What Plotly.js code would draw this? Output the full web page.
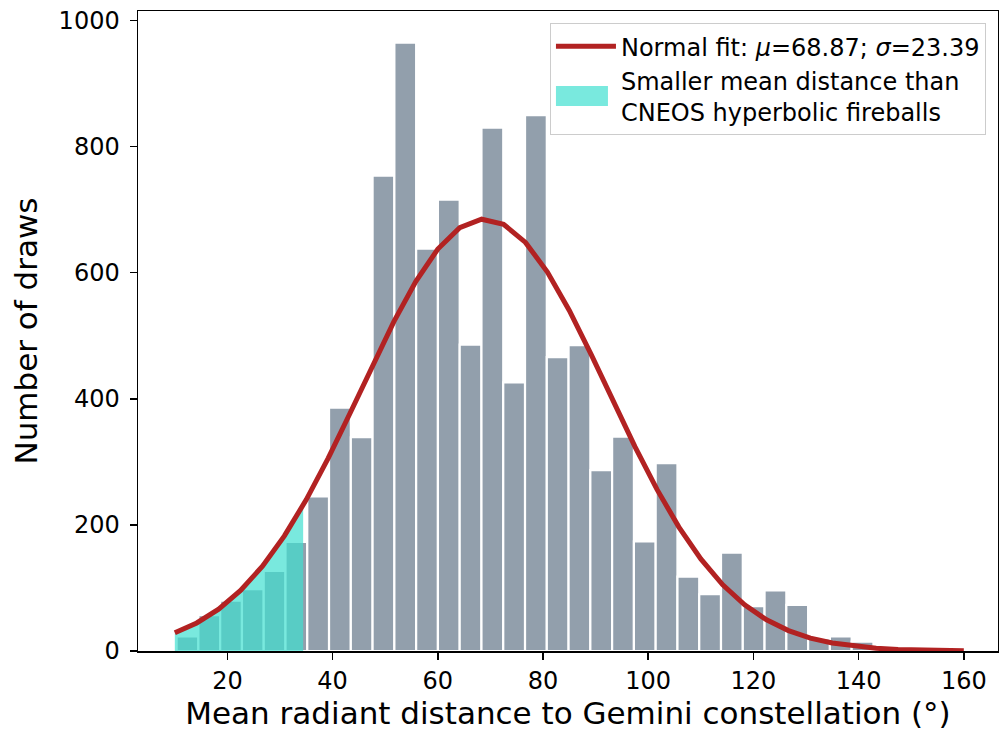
<!DOCTYPE html>
<html>
<head>
<meta charset="utf-8">
<script src="https://cdn.plot.ly/plotly-3.0.1.min.js"></script>
<style>html,body{margin:0;padding:0;background:#fff;}#chart{width:999px;height:735px;}</style>
</head>
<body>
<div id="chart"></div>
<script>
// Histogram of mean radiant distance (bins of equal width)
const binStart = 10.34;
const binWidth = 4.14;
const counts = [23, 57, 80, 98, 127, 173, 245, 386, 339, 754, 965, 638, 716, 486, 830, 426,
                850, 466, 485, 287, 340, 174, 298, 118, 90, 156, 71, 96, 73, 20, 23, 15];

// Normal fit curve
const curveX = [10.0, 14.167, 18.333, 22.5, 26.667, 30.833, 35.0, 39.167, 43.333, 47.5, 51.667, 55.833,
                60.0, 64.167, 68.333, 72.5, 76.667, 80.833, 85.0, 89.167, 93.333, 97.5, 101.667, 105.833,
                110.0, 114.167, 118.333, 122.5, 126.667, 130.833, 135.0, 139.167, 143.333, 147.5, 151.667,
                155.833, 160.0];
const curveY = [28.9, 44.5, 66.4, 96.0, 134.5, 182.6, 240.1, 305.8, 377.5, 451.3, 522.7, 586.4,
                637.5, 671.3, 684.8, 676.8, 648.0, 601.0, 540.0, 470.1, 396.4, 323.9, 256.3, 196.5,
                146.0, 105.0, 73.2, 49.4, 32.4, 20.5, 12.6, 7.5, 4.3, 2.4, 1.3, 0.7, 0.3];

// CNEOS hyperbolic fireballs mean distance threshold
const threshold = 34.4;

const xTicks = [20, 40, 60, 80, 100, 120, 140, 160];
const yTicks = [0, 200, 400, 600, 800, 1000];

const fitLabel = 'Normal fit: <i>μ</i>=68.87; <i>σ</i>=23.39';
const fillLabel = 'Smaller mean distance than<br>CNEOS hyperbolic fireballs';
const xTitle = 'Mean radiant distance to Gemini constellation (°)';
const yTitle = 'Number of draws';

// bar centers
const barX = counts.map((_, i) => binStart + binWidth * (i + 0.5));

// fill region under the curve up to the threshold
const fillX = [], fillY = [];
for (let i = 0; i < curveX.length; i++) {
  if (curveX[i] <= threshold) { fillX.push(curveX[i]); fillY.push(curveY[i]); }
  else {
    const x0 = curveX[i-1], x1 = curveX[i], y0 = curveY[i-1], y1 = curveY[i];
    fillX.push(threshold);
    fillY.push(y0 + (y1 - y0) * (threshold - x0) / (x1 - x0));
    break;
  }
}

const font = 'DejaVu Sans, Liberation Sans, sans-serif';

const traces = [
  {
    type: 'bar', x: barX, y: counts, width: binWidth,
    marker: {color: 'rgb(146,159,172)', line: {color: 'white', width: 2.2}},
    showlegend: false, hoverinfo: 'skip'
  },
  {
    type: 'scatter', x: fillX, y: fillY, mode: 'none', fill: 'tozeroy',
    fillcolor: 'rgba(64,224,208,0.7)', name: fillLabel, legendrank: 2, hoverinfo: 'skip'
  },
  {
    type: 'scatter', x: curveX, y: curveY, mode: 'lines',
    line: {color: '#B22222', width: 5}, name: fitLabel, legendrank: 1, hoverinfo: 'skip'
  }
];

const axisCommon = {
  showgrid: false, zeroline: false, showline: true, linecolor: 'black', linewidth: 1.5,
  mirror: true, ticks: 'outside', ticklen: 7, tickwidth: 1.5, tickcolor: 'black',
  tickfont: {family: font, size: 24, color: 'black'}, automargin: false
};

const layout = {
  width: 999, height: 735,
  margin: {l: 138, r: 1, t: 11, b: 84, pad: 0},
  paper_bgcolor: 'white', plot_bgcolor: 'white',
  bargap: 0,
  xaxis: Object.assign({}, axisCommon, {
    range: [3.0, 166.5], tickmode: 'array', tickvals: xTicks, ticktext: xTicks.map(String),
    ticklabelstandoff: 1,
    title: {text: xTitle, font: {family: font, size: 31, color: 'black'}, standoff: 6}
  }),
  yaxis: Object.assign({}, axisCommon, {
    range: [0, 1015], tickmode: 'array', tickvals: yTicks, ticktext: yTicks.map(String),
    ticklabelstandoff: 5,
    title: {text: yTitle, font: {family: font, size: 31, color: 'black'}, standoff: 12}
  }),
  legend: {
    x: 0.986, xanchor: 'right', y: 0.981, yanchor: 'top',
    bgcolor: 'rgba(255,255,255,0.85)', bordercolor: '#cccccc', borderwidth: 1,
    font: {family: font, size: 24, color: 'black'}, itemwidth: 60, tracegroupgap: 0
  },
  showlegend: true,
  hovermode: false
};

Plotly.newPlot('chart', traces, layout, {displayModeBar: false, staticPlot: true}).then(function (gd) {
  // enlarge the legend patch of the filled area into a rectangle
  gd.querySelectorAll('.legend .legendfill path').forEach(function (p) {
    p.setAttribute('d', 'M5,-10h52v20h-52z');
  });
});
</script>
</body>
</html>
